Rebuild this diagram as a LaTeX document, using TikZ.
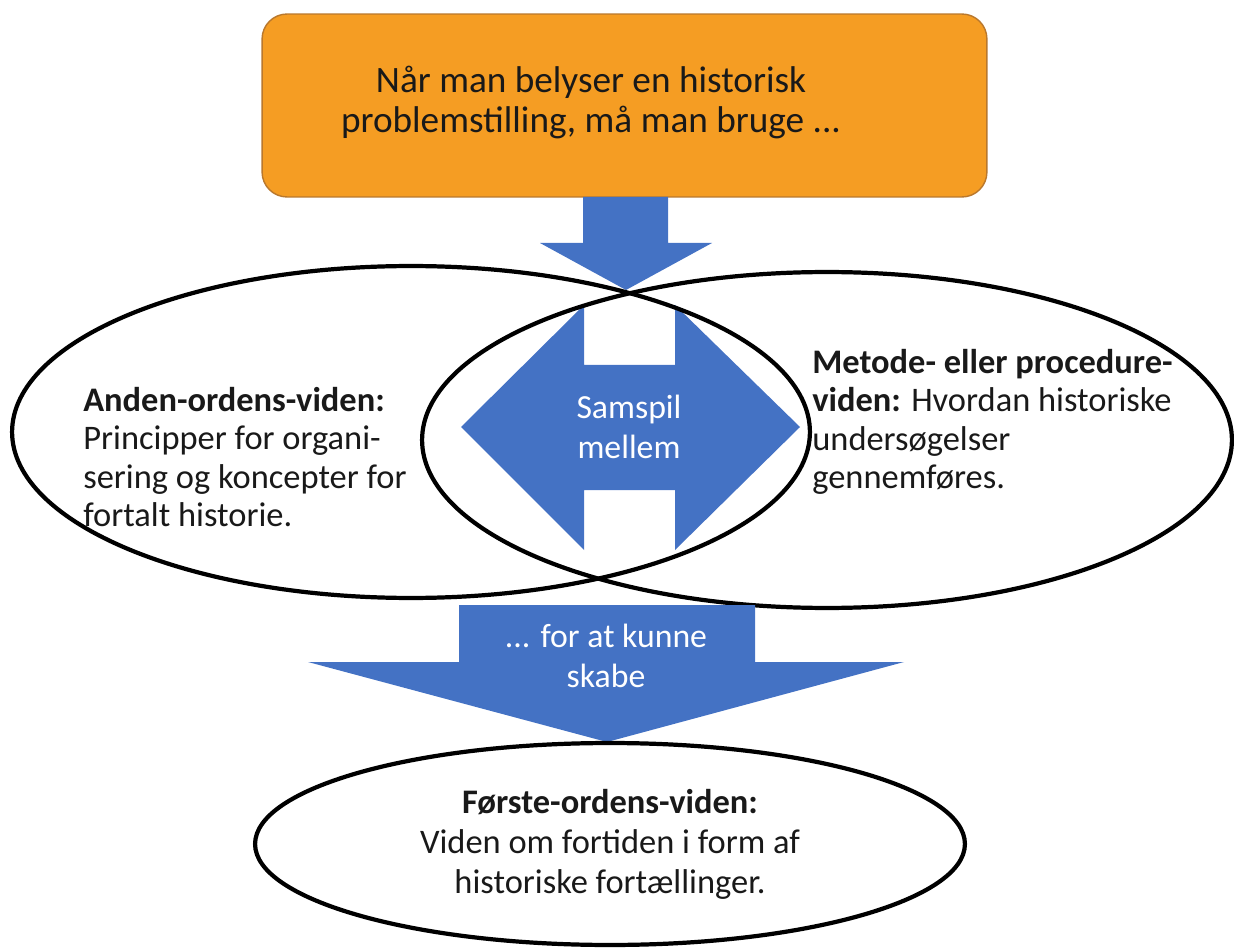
\documentclass[tikz,border=0pt]{standalone}
\usepackage{fontspec}
\setmainfont{Carlito}
\usetikzlibrary{shapes.geometric}
\definecolor{boxorange}{RGB}{245,157,35}
\definecolor{boxedge}{RGB}{185,120,45}
\definecolor{arrowblue}{RGB}{68,114,196}
\definecolor{txt}{RGB}{25,25,25}
\begin{document}
\begin{tikzpicture}[x=0.02cm,y=-0.02cm,
  blockarrow/.style={fill=arrowblue, draw=none},
  ring/.style={ellipse, draw=black, line width=2.4pt, inner sep=0pt},
  bodytext/.style={text=txt, inner sep=0pt, font=\fontsize{19.6}{21.9}\selectfont},
  whitetext/.style={text=white, inner sep=0pt, align=center, font=\fontsize{19.2}{22.8}\selectfont}]
\useasboundingbox (0,0) rectangle (1234,949);
% top box
\node[draw=boxedge, fill=boxorange, line width=0.8pt, rounded corners=0.5cm,
      minimum width=14.5cm, minimum height=3.66cm] (prob) at (624.5,105.5) {};
\node[text=txt, inner sep=0pt, align=center, anchor=north,
      font=\fontsize{21.2}{22.8}\selectfont] (probtext) at (591,66)
  {Når man belyser en historisk\\problemstilling, må man bruge ...};
% top down arrow
\fill[blockarrow] (583,197) -- (668,197) -- (668,243) -- (712,243) -- (626,290)
  -- (540,243) -- (583,243) -- cycle;
% double arrow
\fill[blockarrow] (461,427) -- (584,305) -- (584,365) -- (675,365) -- (675,305)
  -- (800,427) -- (675,550) -- (675,490) -- (584,490) -- (584,550) -- cycle;
\node[whitetext, anchor=north] (samspil) at (629,395) {Samspil\\mellem};
% ellipses
\node[ring, minimum width=15.96cm, minimum height=6.64cm] (second) at (411,432) {};
\node[ring, minimum width=16.2cm, minimum height=6.72cm] (method) at (827,440) {};
\node[bodytext, align=left, anchor=north west] (secondtext) at (83,387)
  {\textbf{Anden-ordens-viden:}\\Principper for organi-\\sering og koncepter for\\fortalt historie.};
\node[bodytext, align=left, anchor=north west] (methodtext) at (812,349)
  {\textbf{Metode- eller procedure-}\\\textbf{viden:} Hvordan historiske\\undersøgelser\\gennemføres.};
% bottom arrow
\fill[blockarrow] (459,605) -- (755,605) -- (755,662) -- (904,662) -- (607,742)
  -- (308,662) -- (459,662) -- cycle;
\node[whitetext, anchor=north] (skabe) at (606,624) {... for at kunne\\skabe};
% bottom ellipse
\node[ring, minimum width=14.2cm, minimum height=4.04cm] (first) at (610,844) {};
\node[bodytext, align=center, anchor=north, font=\fontsize{19.6}{22.8}\selectfont] (firsttext) at (610,789)
  {\textbf{Første-ordens-viden:}\\Viden om fortiden i form af\\historiske fortællinger.};
\end{tikzpicture}
\end{document}
